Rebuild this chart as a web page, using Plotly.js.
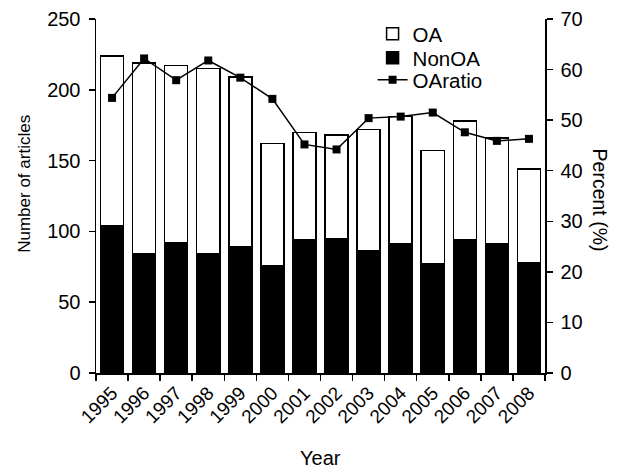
<!DOCTYPE html>
<html>
<head>
<meta charset="utf-8">
<script src="https://cdn.plot.ly/plotly-3.0.1.min.js"></script>
<style>html,body{margin:0;padding:0;background:#fff;}#chart{width:622px;height:468px;}</style>
</head>
<body>
<div id="chart"></div>
<script>
const years = ['1995','1996','1997','1998','1999','2000','2001','2002','2003','2004','2005','2006','2007','2008'];
const nonOA = [104, 84, 92, 84, 89, 76, 94, 95, 86, 91, 77, 94, 91, 78];
const oa = [120, 135, 125, 131, 120, 86, 76, 73, 86, 90, 80, 84, 75, 66];
const oaRatio = [54.4, 62.2, 57.9, 61.8, 58.4, 54.2, 45.2, 44.2, 50.4, 50.7, 51.5, 47.6, 45.9, 46.3];

const fam = 'Liberation Sans, Arial, sans-serif';
const f = (s) => ({family: fam, size: s, color: '#000'});

const traces = [
  {type: 'bar', name: 'NonOA', x: years, y: nonOA, width: 0.72, legend: 'legend2',
   marker: {color: '#000', line: {color: '#000', width: 1.5}}},
  {type: 'bar', name: 'OA', x: years, y: oa, width: 0.72, legend: 'legend',
   marker: {color: '#fff', line: {color: '#000', width: 1.5}}},
  {type: 'scatter', mode: 'lines+markers', name: 'OAratio', x: years, y: oaRatio, yaxis: 'y2', legend: 'legend3',
   line: {color: '#000', width: 1.5}, marker: {symbol: 'square', size: 8, color: '#000'}}
];

const leg = (y) => ({x: 0.616, y: y, xanchor: 'left', yanchor: 'middle',
                     bgcolor: 'rgba(0,0,0,0)', font: f(20.5)});

const layout = {
  width: 622, height: 468,
  margin: {l: 96, r: 77, t: 19, b: 95},
  paper_bgcolor: '#fff', plot_bgcolor: '#fff',
  font: f(18),
  barmode: 'stack',
  showlegend: true,
  legend: leg(0.958),
  legend2: leg(0.890),
  legend3: leg(0.828),
  xaxis: {type: 'category', tickson: 'boundaries', ticks: 'outside', ticklen: 6, tickwidth: 1.5,
          tickcolor: '#000', showline: true, linecolor: '#000', linewidth: 1.5, showgrid: false,
          tickangle: -45, tickfont: f(19), range: [-0.5, 13.5]},
  yaxis: {range: [0, 250], dtick: 50, ticks: 'outside', ticklen: 6, tickwidth: 1.5, tickcolor: '#000',
          showline: true, linecolor: '#000', linewidth: 1.5, showgrid: false, zeroline: false,
          tickfont: f(20), ticklabelstandoff: 4},
  yaxis2: {range: [0, 70], dtick: 10, overlaying: 'y', side: 'right', ticks: 'outside', ticklen: 6,
           tickwidth: 1.5, tickcolor: '#000', showline: true, linecolor: '#000', linewidth: 1.5,
           showgrid: false, zeroline: false, tickfont: f(20), ticklabelstandoff: 4},
  annotations: [
    {text: 'Number of articles', xref: 'paper', yref: 'paper', x: -0.16, y: 0.535, textangle: -90,
     showarrow: false, font: f(17), xanchor: 'center', yanchor: 'middle'},
    {text: 'Percent (%)', xref: 'paper', yref: 'paper', x: 1.1225, y: 0.49, textangle: 90,
     showarrow: false, font: f(19.5), xanchor: 'center', yanchor: 'middle'},
    {text: 'Year', xref: 'paper', yref: 'paper', x: 0.5, y: -0.24,
     showarrow: false, font: f(20), xanchor: 'center', yanchor: 'middle'}
  ]
};

Plotly.newPlot('chart', traces, layout, {displayModeBar: false, staticPlot: true});
</script>
</body>
</html>
